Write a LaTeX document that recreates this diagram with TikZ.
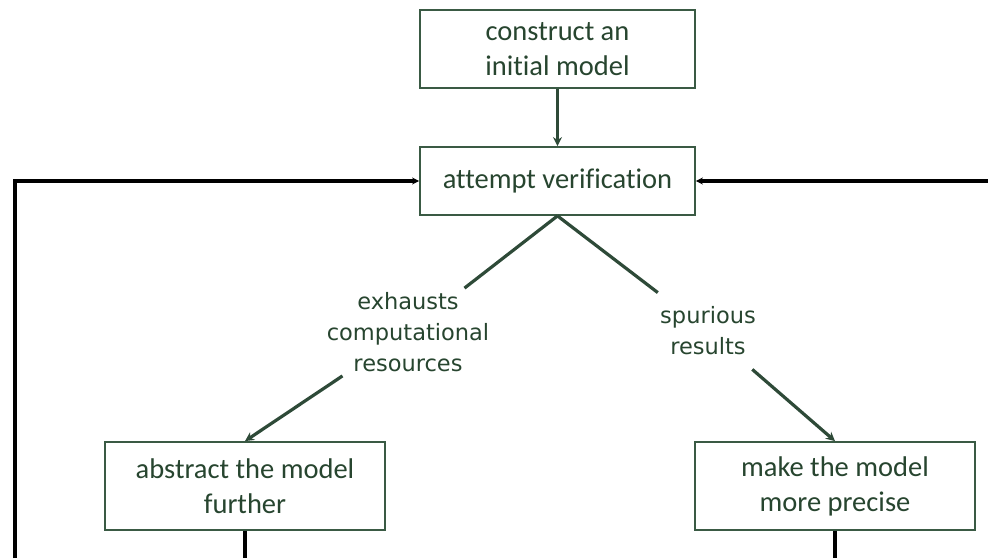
\documentclass[tikz,border=0pt]{standalone}
\usepackage{fontspec}
\setmainfont[Ligatures=NoCommon]{Carlito}
\newfontfamily\labfont{DejaVu Sans}
\usetikzlibrary{arrows.meta}
\definecolor{boxgreen}{HTML}{3A5A44}
\definecolor{txtgreen}{HTML}{27452F}
\definecolor{linegreen}{HTML}{2E4A38}
\begin{document}
\begin{tikzpicture}[x=1pt,y=-1pt,
  box/.style={draw=boxgreen,line width=1.8pt,fill=white,text=txtgreen,align=center,
    font=\fontsize{28.5}{35}\selectfont,inner sep=0pt},
  lab/.style={text=txtgreen,align=center,font=\labfont\fontsize{22.5}{31}\selectfont,inner sep=4pt},
  gline/.style={draw=linegreen,line width=3.2pt},
  garrow/.style={gline,-{Stealth[length=9pt,width=9pt]}},
  bline/.style={draw=black,line width=3.6pt},
  barrow/.style={bline,-{Stealth[length=7pt,width=7pt]}}]
\useasboundingbox (0,0) rectangle (988,558);
\node[box,minimum width=275pt,minimum height=78pt] (init) at (557.5,49) {construct an\\initial model};
\node[box,minimum width=275pt,minimum height=68pt] (att) at (557.5,181) {attempt verification};
\node[box,minimum width=280pt,minimum height=88pt] (abs) at (245,486) {abstract the model\\further};
\node[box,minimum width=280pt,minimum height=88pt] (prec) at (835,486) {make the model\\more precise};
\node[lab] (l1) at (408,332) {exhausts\\computational\\resources};
\node[lab,inner sep=14pt] (l2) at (708,331) {spurious\\results};
\coordinate (lc) at (15,558);
\coordinate (rc) at (988,181);
\coordinate (bl) at (245,558);
\coordinate (br) at (835,558);
\draw[garrow] (init) -- (att);
\draw[gline] (att.south) -- (l1);
\draw[garrow] (l1) -- (abs.north);
\draw[gline] (att.south) -- (l2);
\draw[garrow] (l2) -- (prec.north);
\draw[barrow] (lc) |- (att.west);
\draw[barrow] (rc) -- (att.east);
\draw[bline] (abs.south) -- (bl);
\draw[bline] (prec.south) -- (br);
\end{tikzpicture}
\end{document}
